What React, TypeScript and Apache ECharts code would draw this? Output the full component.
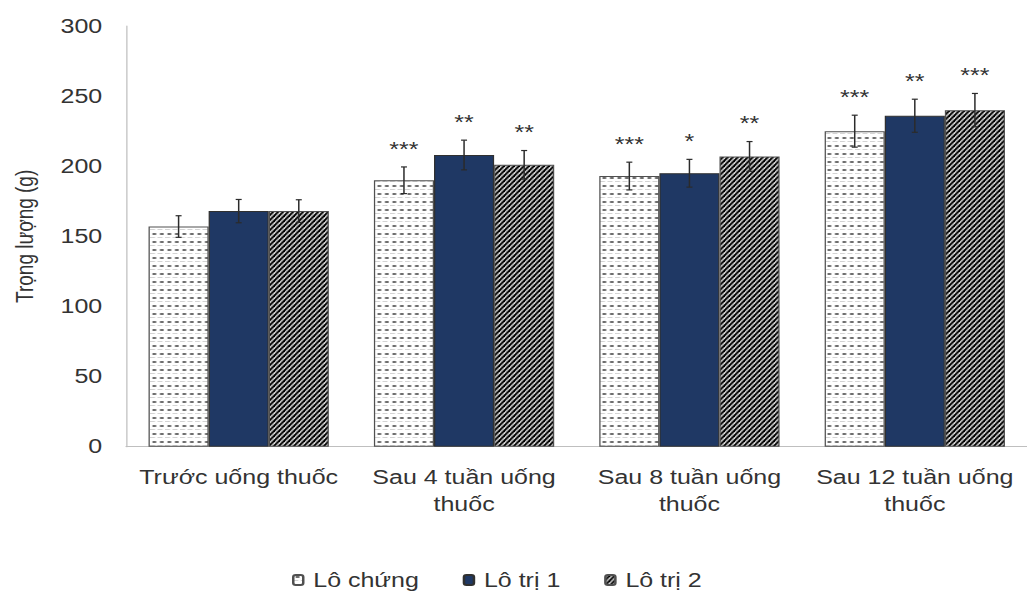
import React, { useEffect, useRef } from "react";
import * as echarts from "echarts";

const categories = [
  "Trước uống thuốc",
  "Sau 4 tuần uống\nthuốc",
  "Sau 8 tuần uống\nthuốc",
  "Sau 12 tuần uống\nthuốc",
];
const seriesNames = ["Lô chứng", "Lô trị 1", "Lô trị 2"];
const loChung = [157, 190, 193, 225];
const loTri1 = [168, 208, 195, 236];
const loTri2 = [168, 201, 207, 240];
const errChung = [7.7, 9.5, 9.9, 11.4];
const errTri1 = [8.3, 10.6, 9.9, 11.8];
const errTri2 = [8.1, 10.2, 10.6, 11.9];
const starsChung = ["", "***", "***", "***"];
const starsTri1 = ["", "**", "*", "**"];
const starsTri2 = ["", "**", "**", "***"];
const yTicks = { min: 0, max: 300, interval: 50 };

const FONT = "Liberation Sans, Arial, sans-serif";
const TEXT_COLOR = "#333333";
// the reference picture is stretched horizontally; reproduce it with a CSS scale
const STRETCH = 1.25;
const W = 1027;
const H = 593;

function makeDashPattern() {
  const w = 6;
  const h = 8;
  const c = document.createElement("canvas");
  c.width = w;
  c.height = h;
  const ctx = c.getContext("2d")!;
  ctx.fillStyle = "#ffffff";
  ctx.fillRect(0, 0, w, h);
  ctx.fillStyle = "#d4d4d4";
  ctx.fillRect(0, 5, 4, 1);
  ctx.fillStyle = "#6e6e6e";
  ctx.fillRect(2, 1, 3, 2);
  return c;
}

function makeStripePattern() {
  const w = 4;
  const h = 5;
  const c = document.createElement("canvas");
  c.width = w;
  c.height = h;
  const ctx = c.getContext("2d")!;
  ctx.fillStyle = "#ffffff";
  ctx.fillRect(0, 0, w, h);
  ctx.strokeStyle = "#000000";
  ctx.lineWidth = 2;
  for (const k of [-1, 0, 1]) {
    ctx.beginPath();
    ctx.moveTo(k * w - w * 0.2, h + h * 0.2);
    ctx.lineTo(k * w + w + w * 0.2, -h * 0.2);
    ctx.stroke();
  }
  return c;
}

export default function App() {
  const ref = useRef<HTMLDivElement>(null);

  useEffect(() => {
    if (!ref.current) return;
    const chart = echarts.init(ref.current, undefined, { renderer: "svg" });

    const dash = makeDashPattern();
    const stripe = makeStripePattern();
    const fills: any[] = [
      { image: dash.toDataURL(), repeat: "repeat", imageWidth: 6, imageHeight: 8 },
      "#1f3864",
      { image: stripe.toDataURL(), repeat: "repeat", imageWidth: 4, imageHeight: 5 },
    ];
    const borders = ["#505050", "#303030", "#505050"];
    const values = [loChung, loTri1, loTri2];
    const errs = [errChung, errTri1, errTri2];
    const stars = [starsChung, starsTri1, starsTri2];
    const gapRatio = 0.2;

    const barSeries = values.map((vals, i) => ({
      name: seriesNames[i],
      type: "bar",
      data: vals,
      barGap: "0%",
      barCategoryGap: "20%",
      itemStyle: { color: fills[i], borderColor: borders[i], borderWidth: 1 },
      z: 2,
    }));

    const errSeries = values.map((vals, i) => ({
      type: "custom",
      name: "err" + i,
      z: 5,
      silent: true,
      data: vals.map((v, j) => [j, v, errs[i][j]]),
      encode: { x: 0, y: 1 },
      renderItem: (params: any, api: any) => {
        const cat = api.value(0);
        const v = api.value(1);
        const e = api.value(2);
        const st = stars[i][cat];
        const catW = api.size([1, 0])[0];
        const bw = (catW * (1 - gapRatio)) / 3;
        const center = api.coord([cat, v]);
        const x = center[0] + (i - 1) * bw;
        const yTop = api.coord([cat, v + e])[1];
        const yBot = api.coord([cat, v - e])[1];
        const cap = 2.4;
        const lineStyle = { stroke: "#2b2b2b", lineWidth: 1.2 };
        const children: any[] = [
          { type: "line", shape: { x1: x, y1: yTop, x2: x, y2: yBot }, style: lineStyle },
          { type: "line", shape: { x1: x - cap, y1: yTop, x2: x + cap, y2: yTop }, style: lineStyle },
          { type: "line", shape: { x1: x - cap, y1: yBot, x2: x + cap, y2: yBot }, style: lineStyle },
        ];
        if (st) {
          children.push({
            type: "text",
            style: {
              text: st,
              x: x,
              y: yTop - 8,
              align: "center",
              verticalAlign: "bottom",
              fontSize: 20,
              fontFamily: FONT,
              fill: TEXT_COLOR,
            },
          });
        }
        return { type: "group", children };
      },
    }));

    chart.setOption({
      animation: false,
      backgroundColor: "#ffffff",
      textStyle: { fontFamily: FONT },
      grid: { left: 126 / STRETCH, top: 26, width: 908 / STRETCH, height: 420.7 },
      legend: {
        data: seriesNames,
        bottom: 3,
        left: 292 / STRETCH,
        padding: 0,
        itemWidth: 8,
        itemHeight: 10,
        itemGap: 35,
        textStyle: { fontSize: 20, color: TEXT_COLOR, fontFamily: FONT, padding: [0, 0, 0, 3] },
      },
      xAxis: {
        type: "category",
        data: categories,
        axisLine: { show: true, lineStyle: { color: "#bfbfbf", width: 1 } },
        axisTick: { show: false },
        axisLabel: {
          interval: 0,
          margin: 17,
          fontSize: 20,
          lineHeight: 27,
          color: TEXT_COLOR,
          fontFamily: FONT,
        },
      },
      yAxis: {
        type: "value",
        min: yTicks.min,
        max: yTicks.max,
        interval: yTicks.interval,
        name: "Trọng lượng (g)",
        nameLocation: "middle",
        nameGap: 71,
        nameTextStyle: { fontSize: 19, color: TEXT_COLOR, fontFamily: FONT },
        axisLine: { show: true, lineStyle: { color: "#bfbfbf", width: 1 } },
        axisTick: { show: false },
        splitLine: { show: false },
        axisLabel: { margin: 19, fontSize: 20, color: TEXT_COLOR, fontFamily: FONT },
      },
      series: [...barSeries, ...errSeries],
    });

    return () => chart.dispose();
  }, []);

  return (
    <div style={{ position: "absolute", left: 0, top: 0, width: W, height: H, overflow: "hidden", background: "#fff" }}>
      <div
        ref={ref}
        style={{
          width: W / STRETCH,
          height: H,
          transform: `scaleX(${STRETCH})`,
          transformOrigin: "0 0",
        }}
      />
    </div>
  );
}
